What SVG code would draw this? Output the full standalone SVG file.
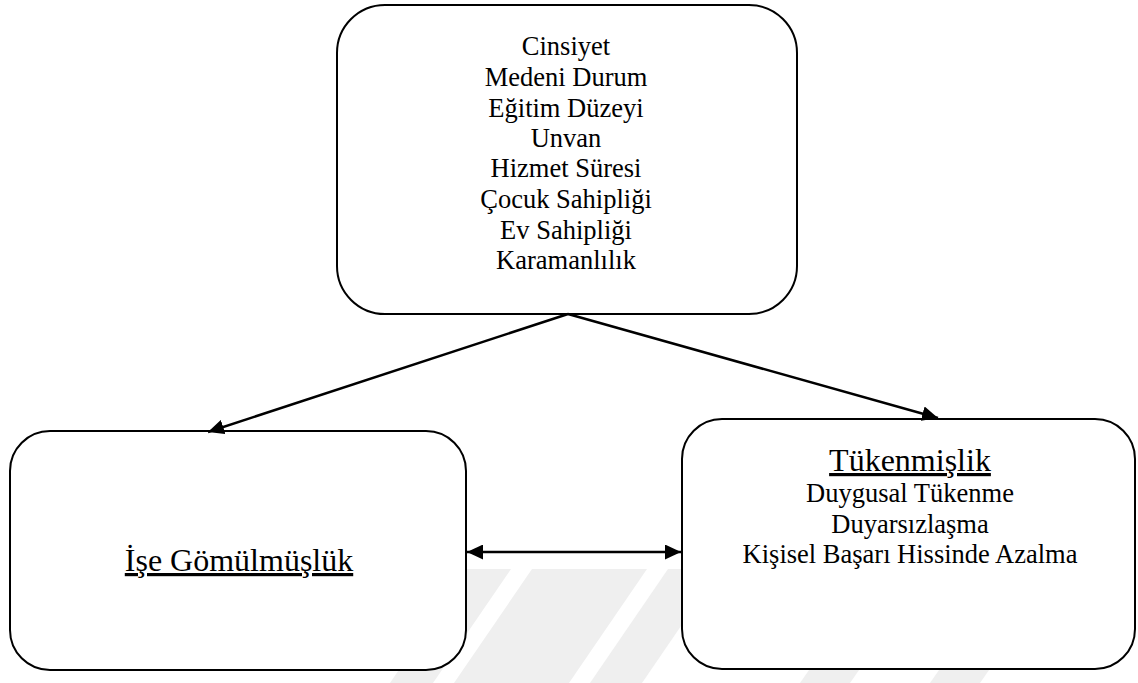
<svg xmlns="http://www.w3.org/2000/svg" width="1138" height="683" viewBox="0 0 1138 683">
<style>
.box{fill:#fff;stroke:#000;stroke-width:2}
.s{font-family:'Liberation Serif','Times New Roman',serif;font-size:26.5px;fill:#000;text-anchor:middle}
.h{font-family:'Liberation Serif','Times New Roman',serif;font-size:32px;fill:#000;text-anchor:middle;text-decoration:underline}
.c{stroke:#000;stroke-width:2.5;fill:none}
.wm{fill:#efefef}
</style>
<defs>
<marker id="ah" markerUnits="userSpaceOnUse" markerWidth="17" markerHeight="15" refX="16" refY="7.5" orient="auto-start-reverse">
<path d="M0,0 L16,7.5 L0,15 z" fill="#000"/>
</marker>
</defs>
<rect width="1138" height="683" fill="#fff"/>
<g id="watermark">
<polygon class="wm" points="467,569 511,569 433,683 390,683"/>
<polygon class="wm" points="532,569 647,569 569,683 454,683"/>
<polygon class="wm" points="668,569 720,569 642,683 590,683"/>
<polygon class="wm" points="830,640 880,640 850,683 800,683"/>
<polygon class="wm" points="960,640 1010,640 980,683 930,683"/>
</g>
<g id="node-demografik">
<rect class="box" x="337" y="5" width="460" height="309" rx="48" ry="48"/>
<text class="s" x="566" y="55">Cinsiyet</text>
<text class="s" x="566" y="86">Medeni Durum</text>
<text class="s" x="566" y="117">Eğitim Düzeyi</text>
<text class="s" x="566" y="147">Unvan</text>
<text class="s" x="566" y="177">Hizmet Süresi</text>
<text class="s" x="566" y="208">Çocuk Sahipliği</text>
<text class="s" x="566" y="239">Ev Sahipliği</text>
<text class="s" x="566" y="269">Karamanlılık</text>
</g>
<g id="node-ise-gomulmusluk">
<rect class="box" x="10" y="431" width="456" height="239" rx="40" ry="40"/>
<text class="h" x="239" y="571">İşe Gömülmüşlük</text>
</g>
<g id="node-tukenmislik">
<rect class="box" x="682" y="419" width="453" height="250" rx="40" ry="40"/>
<text class="h" x="910" y="471">Tükenmişlik</text>
<text class="s" x="910" y="502">Duygusal Tükenme</text>
<text class="s" x="910" y="533">Duyarsızlaşma</text>
<text class="s" x="910" y="563">Kişisel Başarı Hissinde Azalma</text>
</g>
<g id="connectors">
<line class="c" x1="568" y1="314" x2="208" y2="432" marker-end="url(#ah)"/>
<line class="c" x1="568" y1="314" x2="938" y2="418" marker-end="url(#ah)"/>
<line class="c" x1="467" y1="552" x2="681" y2="552" marker-start="url(#ah)" marker-end="url(#ah)"/>
</g>
</svg>
